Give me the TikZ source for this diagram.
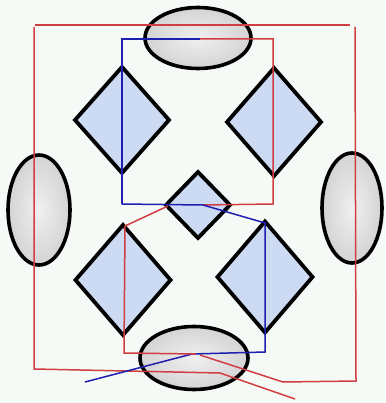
\documentclass[tikz,border=0pt]{standalone}
\usetikzlibrary{shapes.geometric}
\definecolor{bgc}{RGB}{246,250,247}
\definecolor{wred}{RGB}{208,62,66}
\definecolor{wblue}{RGB}{30,30,175}
\definecolor{dfill}{RGB}{204,219,243}
\tikzset{
  oval/.style={ellipse, draw=black, line width=3.6pt, inner sep=0pt, outer sep=0pt,
    inner color=black!6, outer color=black!17},
  dia/.style={diamond, draw=black, line width=3.8pt, inner sep=0pt, outer sep=0pt,
    fill=dfill},
  rline/.style={draw=wred, line width=1.5pt},
  bline/.style={draw=wblue, line width=1.5pt},
}
\begin{document}
\begin{tikzpicture}[x=1pt, y=-1pt]
\fill[bgc] (0,0) rectangle (385,403);
\useasboundingbox (0,0) rectangle (385,403);
% shapes
\node[oval, minimum width=106pt, minimum height=61pt] (T) at (198,38) {};
\node[oval, minimum width=62pt, minimum height=110pt] (L) at (39,210) {};
\node[oval, minimum width=60pt, minimum height=110pt] (R) at (352,208) {};
\node[oval, minimum width=108pt, minimum height=63pt] (B) at (194,358) {};
\node[dia, minimum width=94pt, minimum height=106pt] (D1) at (122,120) {};
\node[dia, minimum width=94pt, minimum height=108pt] (D2) at (274,122) {};
\node[dia, minimum width=64pt, minimum height=66pt] (D3) at (198,205) {};
\node[dia, minimum width=95pt, minimum height=110pt] (D4) at (123,280) {};
\node[dia, minimum width=95pt, minimum height=111pt] (D5) at (265,277) {};
% junction coordinates
\coordinate (f1) at (34,27);
\coordinate (f2) at (34,369);
\coordinate (f3) at (35,25);
\coordinate (f4) at (350,25);
\coordinate (f5) at (355,27);
\coordinate (f6) at (356,381);
\coordinate (f7) at (283,382);
\coordinate (f8) at (200,355);
\coordinate (g1) at (220,373);
\coordinate (g2) at (295,399);
\coordinate (a1) at (122,204);
\coordinate (a2) at (122,39);
\coordinate (a3) at (200,39);
\coordinate (a4) at (273,39);
\coordinate (a5) at (273,204);
\coordinate (a6) at (203,205);
\coordinate (b1) at (265,223);
\coordinate (b2) at (265,352);
\coordinate (b3) at (192,354);
\coordinate (b4) at (85,382);
\coordinate (c1) at (168,206);
\coordinate (c2) at (125,226);
\coordinate (c3) at (124,353);
\coordinate (c4) at (196,354);
% red frame
\draw[rline] (f3) -- (f4);
\draw[rline] (f1) -- (f2) -- (g1) -- (g2);
\draw[rline] (f5) -- (f6) -- (f7) -- (f8);
% top connectors
\draw[bline] (a1) -- (a2) -- (a3);
\draw[rline] (a3) -- (a4) -- (a5) -- (a6);
\draw[bline] (a1) -- (a6) -- (b1) -- (b2) -- (b3) -- (b4);
\draw[rline] (c1) -- (c2) -- (c3) -- (c4);
\end{tikzpicture}
\end{document}
